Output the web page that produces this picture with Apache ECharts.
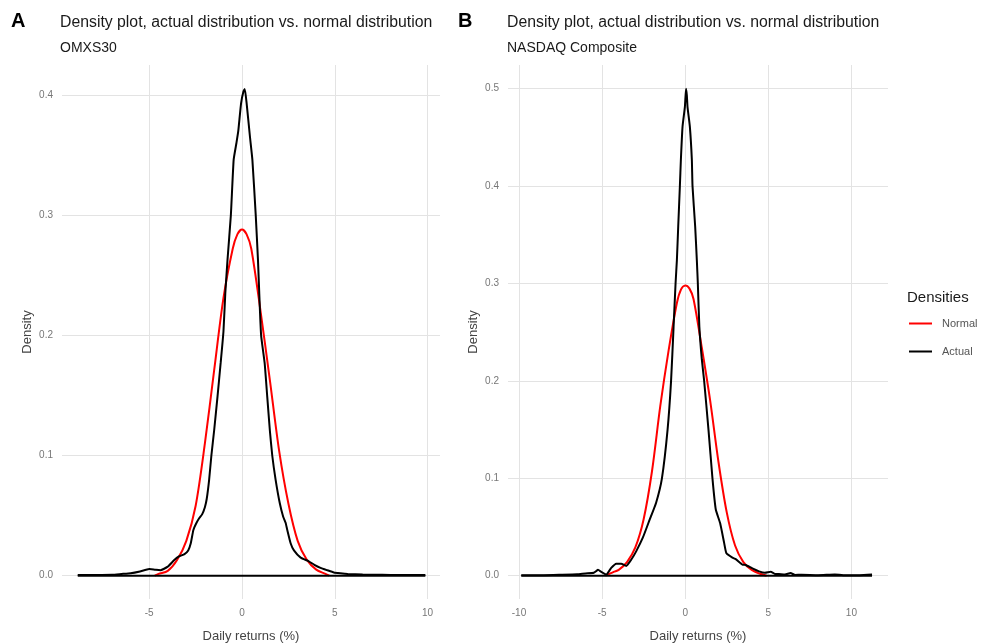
<!DOCTYPE html>
<html>
<head>
<meta charset="utf-8">
<script src="https://cdn.jsdelivr.net/npm/echarts@6/dist/echarts.min.js"></script>
<style>
    html, body { margin: 0; padding: 0; background: #fff; }
    #chart { width: 981px; height: 644px; }
</style>
</head>
<body>
<div id="chart"></div>
<script>
    // A: OMXS30 - [daily return %, density]
    const omxNormal = [
        [-4.7, 0], [-4.5, 0.0015], [-4.0, 0.004], [-3.5, 0.013], [-3.0, 0.029], [-2.5, 0.058],
        [-2.0, 0.110], [-1.5, 0.171], [-1.0, 0.231], [-0.5, 0.272], [-0.25, 0.284], [0, 0.288],
        [0.25, 0.284], [0.5, 0.272], [1.0, 0.220], [1.5, 0.163], [2.0, 0.104], [2.5, 0.060],
        [3.0, 0.029], [3.5, 0.013], [4.0, 0.005], [4.5, 0.0015], [4.7, 0]
    ]
    const omxActual = [
        [-8.85, 0.0005], [-8.0, 0.0006], [-7.0, 0.0008], [-6.5, 0.0014], [-6.0, 0.002], [-5.5, 0.0035],
        [-5.0, 0.0055], [-4.7, 0.005], [-4.4, 0.0045], [-4.0, 0.0075], [-3.65, 0.013], [-3.4, 0.016],
        [-3.1, 0.018], [-2.9, 0.021], [-2.76, 0.027], [-2.62, 0.038], [-2.45, 0.044], [-2.3, 0.048],
        [-2.15, 0.051], [-2.0, 0.057], [-1.9, 0.064], [-1.77, 0.08], [-1.65, 0.1], [-1.5, 0.121],
        [-1.32, 0.149], [-1.15, 0.177], [-1.0, 0.203], [-0.9, 0.235], [-0.78, 0.263], [-0.6, 0.3],
        [-0.45, 0.346], [-0.3, 0.36], [-0.2, 0.37], [-0.05, 0.393], [0.08, 0.403], [0.15, 0.405],
        [0.25, 0.393], [0.43, 0.365], [0.56, 0.346], [0.74, 0.3], [0.86, 0.263], [0.93, 0.235],
        [1.03, 0.2], [1.22, 0.177], [1.36, 0.149], [1.5, 0.121], [1.63, 0.1], [1.81, 0.08],
        [2.04, 0.06], [2.22, 0.049], [2.35, 0.044], [2.44, 0.038], [2.62, 0.027], [2.8, 0.021],
        [3.16, 0.015], [3.6, 0.012], [3.9, 0.009], [4.23, 0.0065], [4.6, 0.0045], [4.95, 0.0027],
        [5.3, 0.002], [5.7, 0.0014], [6.5, 0.0009], [7.1, 0.0008], [8.0, 0.0006], [9.0, 0.0005],
        [9.88, 0.0005]
    ]
    const omxXTicks = [-5, 0, 5, 10]
    const omxYTicks = [0, 0.1, 0.2, 0.3, 0.4]
    const omxXRange = [-9.7, 10.67]
    const omxYRange = [-0.0194, 0.4249]

    // B: NASDAQ Composite
    const nasNormal = [
        [-4.8, 0], [-4.3, 0.004], [-4.0, 0.006], [-3.5, 0.014], [-3.0, 0.029], [-2.5, 0.058],
        [-2.0, 0.107], [-1.5, 0.174], [-1.0, 0.231], [-0.5, 0.28], [-0.25, 0.294], [0, 0.298],
        [0.25, 0.295], [0.5, 0.284], [1.0, 0.234], [1.5, 0.18], [2.0, 0.117], [2.5, 0.065],
        [3.0, 0.031], [3.5, 0.014], [4.0, 0.006], [4.5, 0.002], [4.9, 0]
    ]
    const nasActual = [
        [-9.86, 0.0006], [-8.5, 0.0006], [-7.5, 0.001], [-6.5, 0.0015], [-6.0, 0.0024], [-5.5, 0.003],
        [-5.25, 0.006], [-5.05, 0.004], [-4.75, 0.0012], [-4.45, 0.008], [-4.15, 0.0123], [-3.85, 0.0123],
        [-3.55, 0.01], [-3.25, 0.0164], [-2.95, 0.025], [-2.55, 0.039], [-2.15, 0.057], [-1.75, 0.075],
        [-1.4, 0.1], [-1.06, 0.15], [-0.85, 0.2], [-0.7, 0.255], [-0.58, 0.3], [-0.5, 0.324],
        [-0.42, 0.3585], [-0.32, 0.4], [-0.26, 0.427], [-0.16, 0.461], [-0.02, 0.481], [0.05, 0.5],
        [0.1, 0.493], [0.14, 0.481], [0.28, 0.461], [0.4, 0.427], [0.44, 0.4], [0.6, 0.3585],
        [0.7, 0.324], [0.76, 0.3], [0.85, 0.256], [1.0, 0.222], [1.14, 0.2], [1.4, 0.15],
        [1.64, 0.1], [1.84, 0.068], [2.1, 0.054], [2.34, 0.034], [2.48, 0.023], [2.84, 0.0185],
        [3.04, 0.017], [3.44, 0.0115], [3.64, 0.011], [4.04, 0.0075], [4.44, 0.0045], [4.8, 0.003],
        [5.14, 0.004], [5.4, 0.0018], [5.64, 0.0017], [6.0, 0.0012], [6.34, 0.0027], [6.6, 0.0008],
        [7.0, 0.001], [8.0, 0.0006], [9.0, 0.0012], [9.5, 0.0006], [10.5, 0.0006], [11.24, 0.0012]
    ]
    const nasXTicks = [-10, -5, 0, 5, 10]
    const nasYTicks = [0, 0.1, 0.2, 0.3, 0.4, 0.5]
    const nasXRange = [-10.66, 12.2]
    const nasYRange = [-0.0239, 0.5243]

    const FONT = 'Liberation Sans, Arial, sans-serif'

    function makeX (idx, ticks, range) {
        return {
            type: 'value', gridIndex: idx, min: range[0], max: range[1],
            axisLine: {show: false},
            axisTick: {show: false, customValues: ticks},
            axisLabel: {customValues: ticks, color: '#777', fontSize: 10, margin: 9, fontFamily: FONT},
            splitLine: {show: true, lineStyle: {color: '#e3e3e3', width: 1}},
            name: 'Daily returns (%)', nameLocation: 'middle', nameGap: 31,
            nameTextStyle: {color: '#444', fontSize: 13, fontFamily: FONT}
        }
    }
    function makeY (idx, ticks, range) {
        return {
            type: 'value', gridIndex: idx, min: range[0], max: range[1],
            axisLine: {show: false},
            axisTick: {show: false, customValues: ticks},
            axisLabel: {customValues: ticks, color: '#777', fontSize: 10, margin: 9, fontFamily: FONT,
                formatter: v => v.toFixed(1)},
            splitLine: {show: true, lineStyle: {color: '#e3e3e3', width: 1}},
            name: 'Density', nameLocation: 'middle', nameGap: 28, nameRotate: 90,
            nameTextStyle: {color: '#444', fontSize: 13, fontFamily: FONT}
        }
    }
    function densityLine (name, idx, data, color, smooth) {
        return {
            name: name, type: 'line', xAxisIndex: idx, yAxisIndex: idx,
            data: data, showSymbol: false, symbol: 'none',
            smooth: smooth,
            color: color,
            lineStyle: {color: color, width: 2},
            silent: true, animation: false
        }
    }
    function baseLine (idx, actual) {
        // closing edge of the density outline
        return {
            type: 'line', xAxisIndex: idx, yAxisIndex: idx,
            data: [[actual[0][0], 0], [actual[actual.length - 1][0], 0]],
            showSymbol: false, symbol: 'none',
            lineStyle: {color: '#000', width: 2},
            silent: true, animation: false
        }
    }

    let myChart = echarts.init(document.getElementById('chart'))
    let option = {
        backgroundColor: '#fff',
        textStyle: {fontFamily: FONT},
        animation: false,
        title: [
            {text: 'A', left: 11, top: 11, padding: 0,
                textStyle: {fontSize: 20, fontWeight: 'bold', color: '#000', fontFamily: FONT}},
            {text: 'Density plot, actual distribution vs. normal distribution', subtext: 'OMXS30',
                left: 60, top: 15, padding: 0, itemGap: 10,
                textStyle: {fontSize: 15.8, fontWeight: 'normal', color: '#1a1a1a', fontFamily: FONT},
                subtextStyle: {fontSize: 14, color: '#1a1a1a', fontFamily: FONT}},
            {text: 'B', left: 458, top: 11, padding: 0,
                textStyle: {fontSize: 20, fontWeight: 'bold', color: '#000', fontFamily: FONT}},
            {text: 'Density plot, actual distribution vs. normal distribution', subtext: 'NASDAQ Composite',
                left: 507, top: 15, padding: 0, itemGap: 10,
                textStyle: {fontSize: 15.8, fontWeight: 'normal', color: '#1a1a1a', fontFamily: FONT},
                subtextStyle: {fontSize: 14, color: '#1a1a1a', fontFamily: FONT}},
            {text: 'Densities', left: 907, top: 290, padding: 0,
                textStyle: {fontSize: 15, fontWeight: 'normal', color: '#1a1a1a', fontFamily: FONT}}
        ],
        legend: {
            data: ['Normal', 'Actual'],
            orient: 'vertical', left: 909, top: 318, padding: 0,
            icon: 'rect', itemWidth: 23, itemHeight: 2, itemGap: 17,
            textStyle: {color: '#555', fontSize: 11, fontFamily: FONT, padding: [0, 0, 0, 5]}
        },
        grid: [
            {left: 62, width: 378, top: 65, height: 534, outerBoundsMode: 'none'},
            {left: 508, width: 380, top: 65, height: 534, outerBoundsMode: 'none'}
        ],
        xAxis: [
            makeX(0, omxXTicks, omxXRange),
            makeX(1, nasXTicks, nasXRange)
        ],
        yAxis: [
            makeY(0, omxYTicks, omxYRange),
            makeY(1, nasYTicks, nasYRange)
        ],
        series: [
            densityLine('Normal', 0, omxNormal, '#ff0000', 0.3),
            densityLine('Actual', 0, omxActual, '#000000', 0.15),
            baseLine(0, omxActual),
            densityLine('Normal', 1, nasNormal, '#ff0000', 0.3),
            densityLine('Actual', 1, nasActual, '#000000', 0.15),
            baseLine(1, nasActual)
        ]
    }
    myChart.setOption(option)
</script>
</body>
</html>
